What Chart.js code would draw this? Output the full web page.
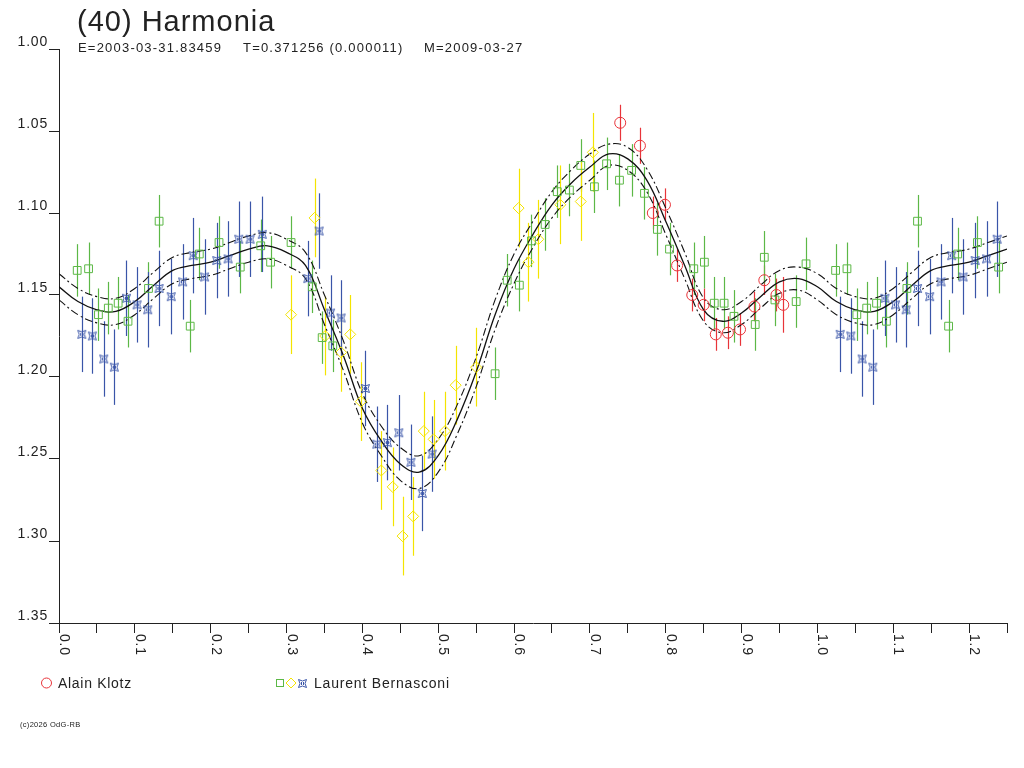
<!DOCTYPE html>
<html>
<head>
<meta charset="utf-8">
<title>(40) Harmonia</title>
<script src="https://cdn.jsdelivr.net/npm/chart.js@4.4.0/dist/chart.umd.min.js"></script>
<style>
body { margin: 0; background: #fff; }
#wrap { position: relative; width: 1024px; height: 768px; font-family: "Liberation Sans", Arial, sans-serif; color: #222; }
#c { position: absolute; left: 0; top: 0; }
.t { position: absolute; white-space: pre; line-height: 1; }
</style>
</head>
<body>
<div id="wrap">
  <canvas id="c" width="1024" height="768"></canvas>
  <div class="t" style="left:77px; top:7px; font-size:29px; letter-spacing:1px;">(40) Harmonia</div>
  <div class="t" style="left:78px; top:41px; font-size:13px; letter-spacing:1.2px;">E=2003-03-31.83459</div>
  <div class="t" style="left:243px; top:41px; font-size:13px; letter-spacing:1.2px;">T=0.371256 (0.000011)</div>
  <div class="t" style="left:424px; top:41px; font-size:13px; letter-spacing:1.2px;">M=2009-03-27</div>
  <div class="t" style="left:58px; top:676px; font-size:14px; letter-spacing:0.7px;">Alain Klotz</div>
  <div class="t" style="left:314px; top:676px; font-size:14px; letter-spacing:0.8px;">Laurent Bernasconi</div>
  <div class="t" style="left:20px; top:721px; font-size:7.5px; letter-spacing:0.3px;">(c)2026 OdG-RB</div>
</div>
<script>
// fitted lightcurve, every 0.025 in phase (0 .. 1)
var curvePhase = [0, 0.025, 0.05, 0.075, 0.1, 0.125, 0.15, 0.175, 0.2, 0.225,
  0.25, 0.275, 0.3, 0.325, 0.35, 0.375, 0.4, 0.425, 0.45, 0.475,
  0.5, 0.525, 0.55, 0.575, 0.6, 0.625, 0.65, 0.675, 0.7, 0.725,
  0.75, 0.775, 0.8, 0.825, 0.85, 0.875, 0.9, 0.925, 0.95, 0.975, 1.0];
var fitMag = [1.145, 1.154, 1.159, 1.160, 1.154, 1.144, 1.135, 1.132, 1.130, 1.126,
  1.122, 1.120, 1.124, 1.132, 1.159, 1.187, 1.219, 1.239, 1.253, 1.258,
  1.248, 1.226, 1.197, 1.162, 1.134, 1.113, 1.095, 1.082, 1.072, 1.064,
  1.067, 1.080, 1.105, 1.132, 1.159, 1.166, 1.161, 1.151, 1.142, 1.140, 1.145];
var fitUpper = [1.137, 1.146, 1.151, 1.152, 1.146, 1.136, 1.127, 1.124, 1.122, 1.118,
  1.114, 1.112, 1.116, 1.124, 1.150, 1.178, 1.210, 1.230, 1.243, 1.248,
  1.238, 1.217, 1.188, 1.153, 1.125, 1.105, 1.087, 1.074, 1.064, 1.058,
  1.060, 1.073, 1.097, 1.124, 1.152, 1.159, 1.154, 1.144, 1.135, 1.133, 1.137];
var fitLower = [1.153, 1.162, 1.167, 1.168, 1.162, 1.152, 1.143, 1.140, 1.138, 1.134,
  1.130, 1.128, 1.132, 1.140, 1.168, 1.196, 1.228, 1.248, 1.263, 1.268,
  1.258, 1.235, 1.206, 1.171, 1.143, 1.121, 1.103, 1.090, 1.080, 1.071,
  1.074, 1.087, 1.113, 1.140, 1.166, 1.173, 1.168, 1.158, 1.149, 1.147, 1.153];

// Alain Klotz (red circles)
var redPhase = [0.740, 0.766, 0.783, 0.799, 0.815, 0.835, 0.850, 0.866, 0.882, 0.898, 0.917, 0.930, 0.946, 0.955];
var redMag = [1.045, 1.059, 1.100, 1.095, 1.132, 1.150, 1.156, 1.174, 1.173, 1.171, 1.157, 1.141, 1.150, 1.156];
var redErr = [0.011, 0.011, 0.010, 0.010, 0.010, 0.010, 0.010, 0.010, 0.010, 0.010, 0.009, 0.009, 0.010, 0.017];

// Laurent Bernasconi, three sessions (green squares, yellow diamonds, blue stars)
var greenPhase = [0.024, 0.039, 0.052, 0.065, 0.078, 0.091, 0.118, 0.132, 0.173, 0.185,
  0.211, 0.239, 0.266, 0.279, 0.306, 0.334, 0.347, 0.361, 0.575, 0.591,
  0.607, 0.623, 0.641, 0.657, 0.673, 0.688, 0.706, 0.722, 0.739, 0.755,
  0.772, 0.789, 0.805, 0.837, 0.851, 0.864, 0.877, 0.890, 0.918, 0.930,
  0.944, 0.972, 0.985];
var greenMag = [1.135, 1.134, 1.162, 1.158, 1.155, 1.166, 1.146, 1.105, 1.169, 1.125,
  1.118, 1.133, 1.120, 1.130, 1.118, 1.145, 1.176, 1.181, 1.198, 1.141,
  1.144, 1.117, 1.107, 1.087, 1.086, 1.071, 1.084, 1.070, 1.080, 1.074,
  1.088, 1.110, 1.122, 1.134, 1.130, 1.155, 1.155, 1.163, 1.168, 1.127,
  1.153, 1.154, 1.131];
var greenErr = 0.016;

var yellowPhase = [0.306, 0.337, 0.351, 0.372, 0.384, 0.398, 0.425, 0.440, 0.453, 0.467,
  0.481, 0.494, 0.509, 0.523, 0.550, 0.606, 0.619, 0.632, 0.661, 0.688, 0.704];
var yellowMag = [1.162, 1.103, 1.175, 1.185, 1.174, 1.215, 1.257, 1.267, 1.297, 1.285,
  1.233, 1.238, 1.233, 1.205, 1.194, 1.097, 1.130, 1.116, 1.095, 1.093, 1.063];
var yellowErr = 0.024;

var bluePhase = [0.030, 0.044, 0.059, 0.073, 0.089, 0.103, 0.117, 0.132, 0.148, 0.163,
  0.177, 0.192, 0.208, 0.223, 0.237, 0.252, 0.268, 0.328, 0.343, 0.358,
  0.372, 0.404, 0.419, 0.433, 0.448, 0.464, 0.479, 0.492];
var blueMag = [1.174, 1.175, 1.189, 1.194, 1.152, 1.156, 1.159, 1.146, 1.151, 1.142,
  1.126, 1.139, 1.129, 1.128, 1.116, 1.116, 1.113, 1.140, 1.111, 1.161,
  1.164, 1.207, 1.241, 1.240, 1.234, 1.252, 1.271, 1.247];
var blueErr = 0.023;

var xTickLabels = ['0.0', '0.1', '0.2', '0.3', '0.4', '0.5', '0.6', '0.7', '0.8', '0.9', '1.0', '1.1', '1.2'];

var RED = '#e8343a', GREEN = '#5cb846', YELLOW = '#f4e400', BLUE = '#3a55a8', INK = '#222';
var PHASE_MAX = 1.25;

// the plot shows one and a quarter cycle: points of the first quarter come back after phase 1
function folded(ph, mg, er) {
  var out = [];
  for (var k = 0; k < 2; k++) {
    for (var i = 0; i < ph.length; i++) {
      var x = ph[i] + k;
      if (x > PHASE_MAX) continue;
      out.push({ x: x, y: mg[i], e: Array.isArray(er) ? er[i] : er });
    }
  }
  return out;
}

function starMark(color) {
  var c = document.createElement('canvas');
  c.width = 11; c.height = 11;
  var g = c.getContext('2d');
  g.strokeStyle = color;
  g.lineWidth = 1;
  g.beginPath();
  g.moveTo(1.5, 1.5);
  g.quadraticCurveTo(5.5, 4.5, 9.5, 1.5);
  g.quadraticCurveTo(6.5, 5.5, 9.5, 9.5);
  g.quadraticCurveTo(5.5, 6.5, 1.5, 9.5);
  g.quadraticCurveTo(4.5, 5.5, 1.5, 1.5);
  g.stroke();
  g.beginPath();
  g.moveTo(4.5, 4); g.lineTo(4.5, 7);
  g.moveTo(6.5, 4); g.lineTo(6.5, 7);
  g.stroke();
  return c;
}
var blueStar = starMark(BLUE);

var errorBars = {
  id: 'errorBars',
  beforeDatasetsDraw: function(chart) {
    var ctx = chart.ctx, xs = chart.scales.x, ys = chart.scales.y, a = chart.chartArea;
    ctx.save();
    ctx.beginPath();
    ctx.rect(a.left, a.top, a.right - a.left, a.bottom - a.top);
    ctx.clip();
    chart.data.datasets.forEach(function(ds) {
      if (!ds.barColor) return;
      ctx.strokeStyle = ds.barColor;
      ctx.lineWidth = 1.2;
      ds.data.forEach(function(p) {
        var px = Math.round(xs.getPixelForValue(p.x)) + 0.5;
        ctx.beginPath();
        ctx.moveTo(px, ys.getPixelForValue(p.y - p.e));
        ctx.lineTo(px, ys.getPixelForValue(p.y + p.e));
        ctx.stroke();
      });
    });
    ctx.restore();
  }
};

var extras = {
  id: 'extras',
  beforeDraw: function(chart) {
    chart.ctx.letterSpacing = '0.8px';
  },
  afterDraw: function(chart) {
    var ctx = chart.ctx, xs = chart.scales.x, bottom = chart.chartArea.bottom;
    ctx.save();
    // x tick labels, turned a quarter turn clockwise
    ctx.fillStyle = INK;
    ctx.font = '14px "Liberation Sans", Arial, sans-serif';
    ctx.textAlign = 'left';
    ctx.textBaseline = 'alphabetic';
    xTickLabels.forEach(function(lab) {
      var px = xs.getPixelForValue(parseFloat(lab));
      ctx.save();
      ctx.translate(px + 1, bottom + 11);
      ctx.rotate(Math.PI / 2);
      ctx.fillText(lab, 0, 0);
      ctx.restore();
    });
    // legend marks
    ctx.lineWidth = 1;
    ctx.strokeStyle = RED;
    ctx.beginPath(); ctx.arc(46.5, 683, 5, 0, Math.PI * 2); ctx.stroke();
    ctx.strokeStyle = GREEN;
    ctx.strokeRect(276.5, 679.5, 7, 7);
    ctx.strokeStyle = YELLOW;
    ctx.beginPath();
    ctx.moveTo(286, 683); ctx.lineTo(291, 678); ctx.lineTo(296, 683); ctx.lineTo(291, 688);
    ctx.closePath(); ctx.stroke();
    ctx.drawImage(blueStar, 297, 678);
    ctx.restore();
  }
};

function marks(label, data, style, radius, color) {
  return {
    label: label, data: data, showLine: false,
    pointStyle: style, pointRadius: radius, pointHoverRadius: radius,
    borderColor: color, backgroundColor: 'rgba(0,0,0,0)', pointBorderWidth: 1,
    barColor: color
  };
}

function curve(label, mags, dash, width) {
  var pts = [];
  for (var k = 0; k < 2; k++) {
    for (var i = 0; i < curvePhase.length; i++) {
      if (k === 1 && i === 0) continue;
      var x = curvePhase[i] + k;
      if (x > PHASE_MAX + 1e-9) continue;
      pts.push({ x: x, y: mags[i] });
    }
  }
  return {
    label: label, data: pts, showLine: true, pointRadius: 0, pointHoverRadius: 0,
    borderColor: '#111', borderWidth: width, borderDash: dash, tension: 0.4, fill: false
  };
}

new Chart(document.getElementById('c'), {
  type: 'scatter',
  data: {
    datasets: [
      marks('Alain Klotz', folded(redPhase, redMag, redErr), 'circle', 5.5, RED),
      marks('Laurent Bernasconi 1', folded(greenPhase, greenMag, greenErr), 'rect', 5.5, GREEN),
      marks('Laurent Bernasconi 2', folded(yellowPhase, yellowMag, yellowErr), 'rectRot', 5.5, YELLOW),
      marks('Laurent Bernasconi 3', folded(bluePhase, blueMag, blueErr), blueStar, 5, BLUE),
      curve('fit', fitMag, [], 1.3),
      curve('fit +', fitUpper, [8, 3, 2, 3], 1.1),
      curve('fit -', fitLower, [8, 3, 2, 3], 1.1)
    ]
  },
  options: {
    responsive: false,
    animation: false,
    devicePixelRatio: 1,
    layout: { padding: { top: 49, right: 17, left: 0, bottom: 0 } },
    plugins: { legend: { display: false }, tooltip: { enabled: false } },
    scales: {
      x: {
        type: 'linear', min: 0, max: PHASE_MAX,
        ticks: { display: false, stepSize: 0.05 },
        grid: { drawOnChartArea: false, drawTicks: true, tickLength: 10, color: INK, lineWidth: 1 },
        border: { display: true, color: INK, width: 1 },
        afterFit: function(s) { s.height = 145; }
      },
      y: {
        type: 'linear', reverse: true, min: 1.0, max: 1.35,
        ticks: {
          stepSize: 0.05, padding: 1, labelOffset: -7, color: INK,
          font: { family: '"Liberation Sans", Arial, sans-serif', size: 14 },
          callback: function(v) { return v.toFixed(2); }
        },
        grid: { drawOnChartArea: false, drawTicks: true, tickLength: 10, color: INK, lineWidth: 1 },
        border: { display: true, color: INK, width: 1 },
        afterFit: function(s) { s.width = 59; }
      }
    }
  },
  plugins: [errorBars, extras]
});
</script>
</body>
</html>
